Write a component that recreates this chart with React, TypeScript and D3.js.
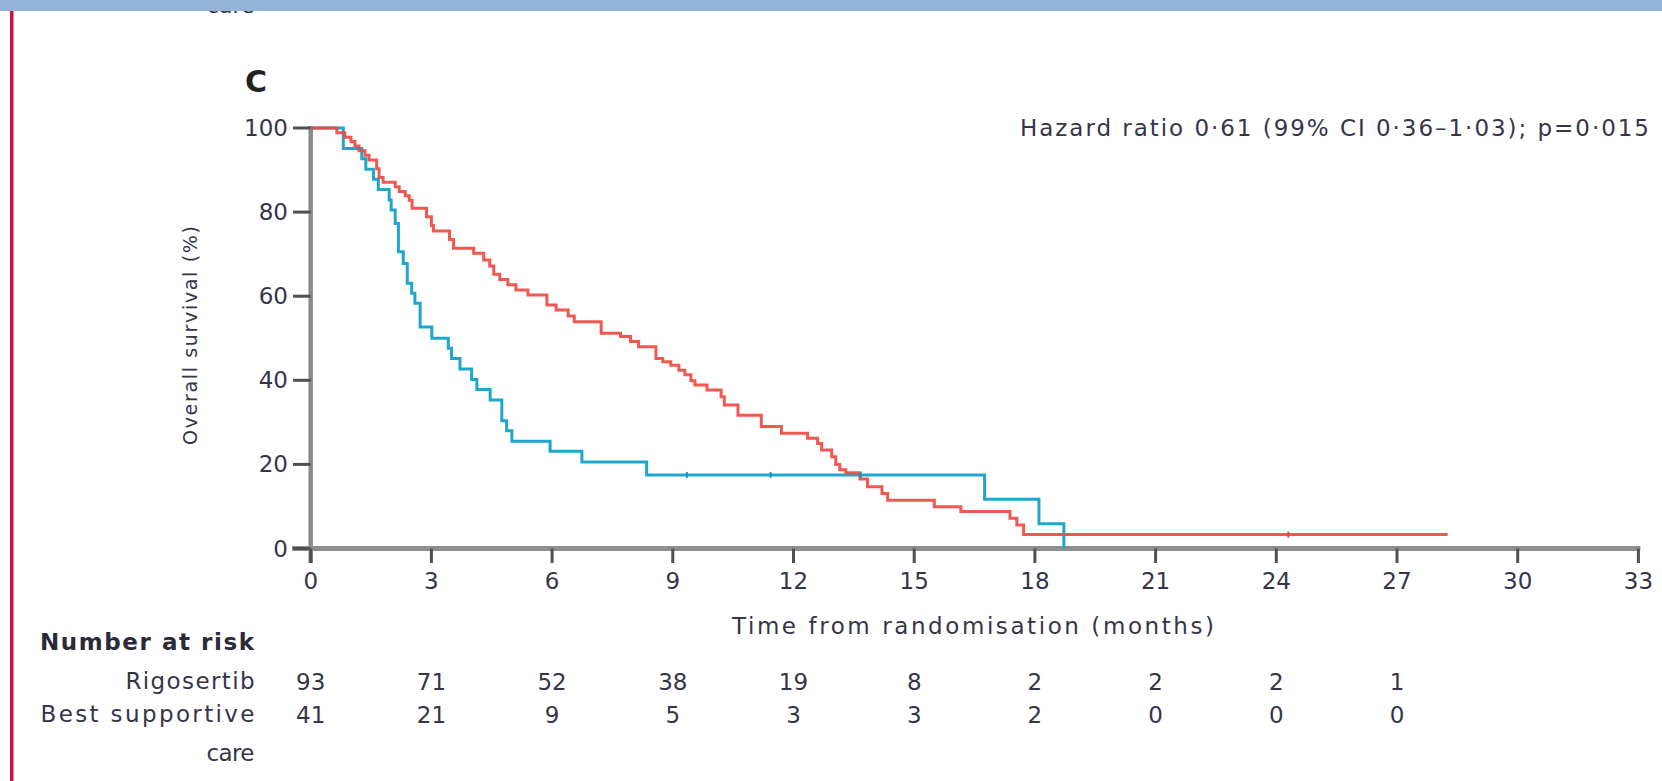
import React, { useRef, useEffect } from 'react';
import * as d3 from 'd3';

// Kaplan-Meier steps: time (months) -> survival (%) after the step
const rigoTimes = [0, 0.65, 0.85, 1.0, 1.1, 1.2, 1.35, 1.45, 1.64, 1.7, 1.8, 2.1, 2.2, 2.35, 2.45, 2.52, 2.88, 3.0, 3.05,
  3.45, 3.55, 4.05, 4.3, 4.45, 4.55, 4.7, 4.9, 5.1, 5.4, 5.87, 6.1, 6.4, 6.55, 7.22, 7.7, 7.95, 8.15, 8.58, 8.75,
  8.95, 9.15, 9.3, 9.45, 9.55, 9.85, 10.2, 10.28, 10.62, 11.2, 11.7, 12.35, 12.6, 12.7, 12.95, 13.05, 13.15, 13.3,
  13.65, 13.84, 14.2, 14.34, 15.5, 16.16, 17.38, 17.55, 17.72, 28.26];
const rigoSurv = [100, 98.9, 97.8, 96.8, 95.7, 94.6, 93.5, 92.4, 90.3, 88.2, 87.1, 86.0, 84.9, 83.9, 82.8, 80.9, 78.9, 76.8, 75.5,
  73.5, 71.4, 70.2, 68.6, 67.2, 65.2, 64.0, 62.7, 61.5, 60.3, 57.9, 56.7, 55.3, 53.9, 51.2, 50.4, 49.2, 48.0, 45.2, 44.4,
  43.6, 42.4, 41.3, 39.9, 38.9, 37.7, 36.1, 34.1, 31.7, 29.0, 27.4, 26.2, 25.0, 23.4, 21.8, 20.0, 18.7, 18.0,
  16.5, 14.7, 13.1, 11.5, 9.9, 8.8, 7.2, 5.6, 3.3, 3.3];

const bscTimes = [0, 0.81, 1.27, 1.37, 1.56, 1.68, 1.95, 2.0, 2.1, 2.18, 2.3, 2.4, 2.51, 2.59, 2.72, 3.01, 3.42, 3.5,
  3.71, 4.0, 4.13, 4.46, 4.75, 4.87, 5.0, 5.95, 6.74, 8.35, 16.75, 18.1, 18.72];
const bscSurv = [100, 95.1, 92.7, 90.2, 87.8, 85.4, 82.9, 80.5, 77.3, 70.6, 67.8, 63.1, 60.7, 58.3, 52.7, 50.0, 47.6, 45.2,
  42.7, 40.2, 37.8, 35.3, 30.4, 28.0, 25.5, 23.1, 20.6, 17.5, 11.7, 5.9, 0];

const rigoCensor = [24.3];
const rigoCensorSurv = [3.3];
const bscCensor = [9.35, 11.43, 13.67];
const bscCensorSurv = [17.5, 17.5, 17.5];

const xTicks = [0, 3, 6, 9, 12, 15, 18, 21, 24, 27, 30, 33];
const yTicks = [0, 20, 40, 60, 80, 100];

const atRiskTimes = [0, 3, 6, 9, 12, 15, 18, 21, 24, 27];
const rigoAtRisk = [93, 71, 52, 38, 19, 8, 2, 2, 2, 1];
const bscAtRisk = [41, 21, 9, 5, 3, 3, 2, 0, 0, 0];

const FONT = '"DejaVu Sans", sans-serif';
const TEXT = '#35354a';
const RED = '#ef463e';
const BLUE = '#1ea6cc';

const App: React.FC = () => {
  const svgRef = useRef<SVGSVGElement | null>(null);

  useEffect(() => {
    const svg = d3.select(svgRef.current);
    svg.selectAll('*').remove();

    const x = d3.scaleLinear().domain([0, 33]).range([310.7, 1638.4]);
    const y = d3.scaleLinear().domain([0, 100]).range([548.5, 128]);

    // leftover label from the panel above, nearly hidden under the top band
    svg.append('text')
      .attr('x', 254.5).attr('y', 12.5)
      .attr('text-anchor', 'end')
      .style('font-family', FONT).style('font-size', '22px').style('fill', TEXT)
      .text('care');

    svg.append('rect').attr('x', 0).attr('y', 0).attr('width', 1662).attr('height', 11).attr('fill', '#95b3d7');
    svg.append('rect').attr('x', 10).attr('y', 11).attr('width', 3.5).attr('height', 770).attr('fill', '#c4163f');

    // panel letter
    svg.append('text')
      .attr('x', 245).attr('y', 92)
      .style('font-family', FONT).style('font-size', '30px').style('font-weight', 600).style('fill', '#222')
      .text('C');

    // axes
    svg.append('line')
      .attr('x1', x(0)).attr('x2', x(0)).attr('y1', 126).attr('y2', 563)
      .attr('stroke', '#8a8a8a').attr('stroke-width', 4.5);
    svg.append('line')
      .attr('x1', 292).attr('x2', x(33) + 2).attr('y1', y(0)).attr('y2', y(0))
      .attr('stroke', '#8f8f8f').attr('stroke-width', 5);

    svg.append('g').selectAll('line')
      .data(yTicks)
      .enter()
      .append('line')
      .attr('x1', 293).attr('x2', x(0))
      .attr('y1', d => y(d)).attr('y2', d => y(d))
      .attr('stroke', '#505050').attr('stroke-width', 3);

    svg.append('g').selectAll('line')
      .data(xTicks)
      .enter()
      .append('line')
      .attr('x1', d => x(d)).attr('x2', d => x(d))
      .attr('y1', y(0)).attr('y2', 563)
      .attr('stroke', '#505050').attr('stroke-width', 3);

    svg.append('g').selectAll('text')
      .data(yTicks)
      .enter()
      .append('text')
      .attr('x', 288).attr('y', d => y(d))
      .attr('text-anchor', 'end').attr('dominant-baseline', 'central')
      .style('font-family', FONT).style('font-size', '23px').style('fill', TEXT)
      .text(d => d);

    svg.append('g').selectAll('text')
      .data(xTicks)
      .enter()
      .append('text')
      .attr('x', d => x(d)).attr('y', 581)
      .attr('text-anchor', 'middle').attr('dominant-baseline', 'central')
      .style('font-family', FONT).style('font-size', '23px').style('fill', TEXT)
      .text(d => d);

    // axis titles
    svg.append('text')
      .attr('x', 973).attr('y', 626)
      .attr('text-anchor', 'middle').attr('dominant-baseline', 'central')
      .attr('textLength', 482)
      .style('font-family', FONT).style('font-size', '23px').style('fill', TEXT)
      .text('Time from randomisation (months)');

    svg.append('text')
      .attr('transform', 'translate(190,335.5) rotate(-90)')
      .attr('text-anchor', 'middle').attr('dominant-baseline', 'central')
      .attr('textLength', 219)
      .style('font-family', FONT).style('font-size', '19px').style('fill', TEXT)
      .text('Overall survival (%)');

    svg.append('text')
      .attr('x', 1020).attr('y', 128)
      .attr('dominant-baseline', 'central')
      .attr('textLength', 629)
      .style('font-family', FONT).style('font-size', '23px').style('fill', TEXT)
      .text('Hazard ratio 0·61 (99% CI 0·36–1·03); p=0·015');

    // curves
    const line = d3.line<[number, number]>()
      .x(d => x(d[0]))
      .y(d => y(d[1]))
      .curve(d3.curveStepAfter);

    const rigo = rigoTimes.map((t, i) => [t, rigoSurv[i]] as [number, number]);
    const bsc = bscTimes.map((t, i) => [t, bscSurv[i]] as [number, number]);

    svg.append('path')
      .attr('d', line(bsc))
      .attr('fill', 'none').attr('stroke', BLUE).attr('stroke-width', 3);

    svg.append('path')
      .attr('d', line(rigo))
      .attr('fill', 'none').attr('stroke', RED).attr('stroke-width', 3).attr('stroke-opacity', 0.9);

    svg.append('g').selectAll('line')
      .data(bscCensor)
      .enter()
      .append('line')
      .attr('x1', d => x(d)).attr('x2', d => x(d))
      .attr('y1', (d, i) => y(bscCensorSurv[i]) - 3).attr('y2', (d, i) => y(bscCensorSurv[i]) + 3)
      .attr('stroke', '#1896bd').attr('stroke-width', 2);

    svg.append('g').selectAll('line')
      .data(rigoCensor)
      .enter()
      .append('line')
      .attr('x1', d => x(d)).attr('x2', d => x(d))
      .attr('y1', (d, i) => y(rigoCensorSurv[i]) - 3).attr('y2', (d, i) => y(rigoCensorSurv[i]) + 3)
      .attr('stroke', '#e8403a').attr('stroke-width', 2);

    // number at risk table
    svg.append('text')
      .attr('x', 40).attr('y', 642)
      .attr('dominant-baseline', 'central')
      .attr('textLength', 214)
      .style('font-family', FONT).style('font-size', '23px').style('font-weight', 'bold').style('fill', '#2a2a3a')
      .text('Number at risk');

    const rowLabels = [
      { text: 'Rigosertib', y: 681, w: 129 },
      { text: 'Best supportive', y: 714, w: 214 },
      { text: 'care', y: 753, w: 48 }
    ];
    svg.append('g').selectAll('text')
      .data(rowLabels)
      .enter()
      .append('text')
      .attr('x', d => 254.5 - d.w).attr('y', d => d.y)
      .attr('dominant-baseline', 'central')
      .attr('textLength', d => d.w)
      .style('font-family', FONT).style('font-size', '23px').style('fill', TEXT)
      .text(d => d.text);

    svg.append('g').selectAll('text')
      .data(rigoAtRisk)
      .enter()
      .append('text')
      .attr('x', (d, i) => x(atRiskTimes[i])).attr('y', 682)
      .attr('text-anchor', 'middle').attr('dominant-baseline', 'central')
      .style('font-family', FONT).style('font-size', '23px').style('fill', TEXT)
      .text(d => d);

    svg.append('g').selectAll('text')
      .data(bscAtRisk)
      .enter()
      .append('text')
      .attr('x', (d, i) => x(atRiskTimes[i])).attr('y', 715)
      .attr('text-anchor', 'middle').attr('dominant-baseline', 'central')
      .style('font-family', FONT).style('font-size', '23px').style('fill', TEXT)
      .text(d => d);
  }, []);

  return (
    <svg
      ref={svgRef}
      width={1662}
      height={781}
      style={{ position: 'absolute', left: 0, top: 0, background: '#fff', display: 'block' }}
    ></svg>
  );
};

export default App;
